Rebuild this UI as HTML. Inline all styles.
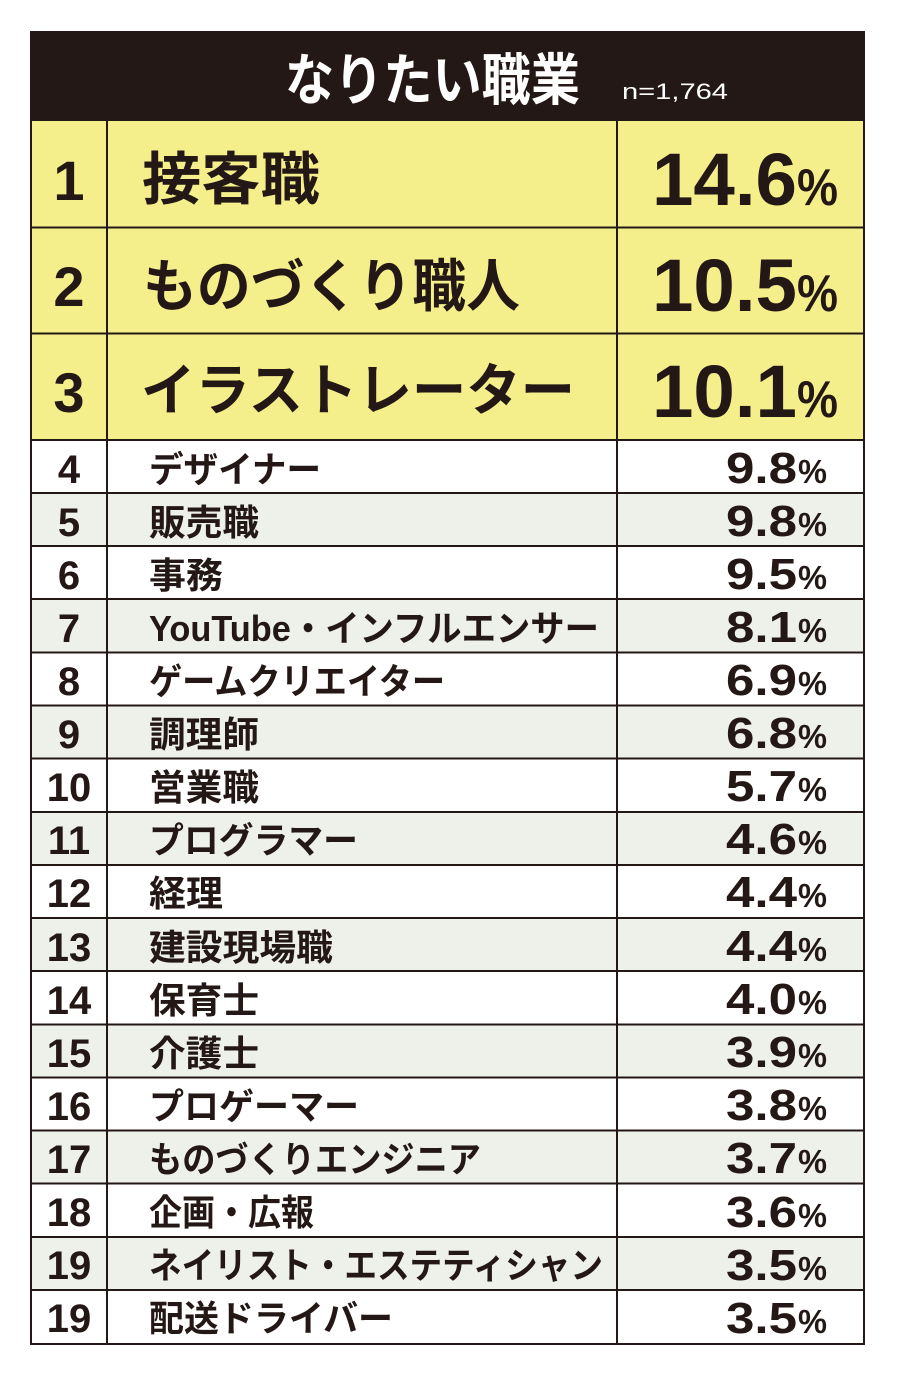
<!DOCTYPE html>
<html><head><meta charset="utf-8">
<style>
html,body{margin:0;padding:0;background:#fff;}
svg{display:block;}
.r{font-family:"Liberation Sans",Arial,sans-serif;font-weight:700;fill:#231815;}
.n{font-family:"Liberation Sans","Noto Sans CJK JP",sans-serif;font-weight:700;fill:#231815;}
.v{font-family:"Liberation Sans",Arial,sans-serif;font-weight:700;fill:#231815;}
</style></head>
<body>
<svg width="912" height="1383" viewBox="0 0 912 1383" xmlns="http://www.w3.org/2000/svg">
<rect x="0" y="0" width="912" height="1383" fill="#fff"/>
<!-- header -->
<rect x="31" y="32" width="833" height="89" fill="#231815"/>
<text x="285" y="100" font-family="Liberation Sans, Noto Sans CJK JP, sans-serif" font-weight="700" font-size="56" fill="#fff" textLength="295" lengthAdjust="spacingAndGlyphs">なりたい職業</text>
<text x="622" y="99" font-family="Liberation Sans, Arial, sans-serif" font-size="22" fill="#fff" textLength="106" lengthAdjust="spacingAndGlyphs">n=1,764</text>
<!-- top 3 yellow -->
<rect x="31" y="121" width="833" height="319" fill="#f5ef8b"/>
<!-- shaded rows -->
<rect x="31" y="493" width="833" height="53" fill="#edf1ea"/>
<rect x="31" y="599" width="833" height="53" fill="#edf1ea"/>
<rect x="31" y="706" width="833" height="53" fill="#edf1ea"/>
<rect x="31" y="812" width="833" height="53" fill="#edf1ea"/>
<rect x="31" y="918" width="833" height="53" fill="#edf1ea"/>
<rect x="31" y="1024" width="833" height="53" fill="#edf1ea"/>
<rect x="31" y="1131" width="833" height="53" fill="#edf1ea"/>
<rect x="31" y="1237" width="833" height="53" fill="#edf1ea"/>
<!-- grid lines -->
<g stroke="#231815" stroke-width="2" fill="none">
<rect x="31" y="32" width="833" height="1312"/>
<line x1="107" y1="121" x2="107" y2="1344"/>
<line x1="617" y1="121" x2="617" y2="1344"/>
<line x1="31" y1="227.5" x2="864" y2="227.5"/>
<line x1="31" y1="333.5" x2="864" y2="333.5"/>
<line x1="31" y1="440" x2="864" y2="440"/>
<line x1="31" y1="493" x2="864" y2="493"/>
<line x1="31" y1="546" x2="864" y2="546"/>
<line x1="31" y1="599" x2="864" y2="599"/>
<line x1="31" y1="652.5" x2="864" y2="652.5"/>
<line x1="31" y1="705.5" x2="864" y2="705.5"/>
<line x1="31" y1="758.5" x2="864" y2="758.5"/>
<line x1="31" y1="812" x2="864" y2="812"/>
<line x1="31" y1="865" x2="864" y2="865"/>
<line x1="31" y1="918" x2="864" y2="918"/>
<line x1="31" y1="971" x2="864" y2="971"/>
<line x1="31" y1="1024.5" x2="864" y2="1024.5"/>
<line x1="31" y1="1077.5" x2="864" y2="1077.5"/>
<line x1="31" y1="1130.5" x2="864" y2="1130.5"/>
<line x1="31" y1="1183.5" x2="864" y2="1183.5"/>
<line x1="31" y1="1237" x2="864" y2="1237"/>
<line x1="31" y1="1290" x2="864" y2="1290"/>
</g>

<!-- top 3 -->
<text class="r" x="69" y="200" font-size="56" text-anchor="middle">1</text>
<text class="r" x="69" y="306" font-size="56" text-anchor="middle">2</text>
<text class="r" x="69" y="412" font-size="56" text-anchor="middle">3</text>

<text class="n" x="142" y="199" font-size="57" textLength="178" lengthAdjust="spacingAndGlyphs">接客職</text>
<text class="n" x="143" y="306" font-size="57" textLength="377" lengthAdjust="spacingAndGlyphs">ものづくり職人</text>
<text class="n" x="141" y="410" font-size="56" textLength="434" lengthAdjust="spacingAndGlyphs">イラストレーター</text>

<text class="v" x="652" y="205" font-size="74" textLength="145" lengthAdjust="spacingAndGlyphs">14.6</text>
<text class="v" x="797" y="205" font-size="52" textLength="41" lengthAdjust="spacingAndGlyphs">%</text>
<text class="v" x="652" y="311" font-size="74" textLength="145" lengthAdjust="spacingAndGlyphs">10.5</text>
<text class="v" x="797" y="311" font-size="52" textLength="41" lengthAdjust="spacingAndGlyphs">%</text>
<text class="v" x="652" y="417" font-size="74" textLength="145" lengthAdjust="spacingAndGlyphs">10.1</text>
<text class="v" x="797" y="417" font-size="52" textLength="41" lengthAdjust="spacingAndGlyphs">%</text>

<!-- ranks 4-19 -->
<g class="r" font-size="40" text-anchor="middle">
<text x="69" y="483">4</text>
<text x="69" y="536">5</text>
<text x="69" y="589">6</text>
<text x="69" y="642">7</text>
<text x="69" y="695">8</text>
<text x="69" y="748">9</text>
<text x="69" y="801">10</text>
<text x="69" y="854">11</text>
<text x="69" y="907">12</text>
<text x="69" y="961">13</text>
<text x="69" y="1014">14</text>
<text x="69" y="1067">15</text>
<text x="69" y="1120">16</text>
<text x="69" y="1173">17</text>
<text x="69" y="1226">18</text>
<text x="69" y="1279">19</text>
<text x="69" y="1332">19</text>
</g>

<!-- names -->
<g class="n" font-size="36">
<text x="149" y="482" textLength="172" lengthAdjust="spacingAndGlyphs">デザイナー</text>
<text x="149" y="535" textLength="110" lengthAdjust="spacingAndGlyphs">販売職</text>
<text x="149" y="588" textLength="74" lengthAdjust="spacingAndGlyphs">事務</text>
<text x="149" y="641" textLength="450" lengthAdjust="spacingAndGlyphs">YouTube・インフルエンサー</text>
<text x="149" y="694" textLength="296" lengthAdjust="spacingAndGlyphs">ゲームクリエイター</text>
<text x="149" y="747" textLength="110" lengthAdjust="spacingAndGlyphs">調理師</text>
<text x="149" y="800" textLength="110" lengthAdjust="spacingAndGlyphs">営業職</text>
<text x="149" y="853" textLength="209" lengthAdjust="spacingAndGlyphs">プログラマー</text>
<text x="149" y="906" textLength="74" lengthAdjust="spacingAndGlyphs">経理</text>
<text x="149" y="960" textLength="184" lengthAdjust="spacingAndGlyphs">建設現場職</text>
<text x="149" y="1013" textLength="110" lengthAdjust="spacingAndGlyphs">保育士</text>
<text x="149" y="1066" textLength="110" lengthAdjust="spacingAndGlyphs">介護士</text>
<text x="149" y="1119" textLength="210" lengthAdjust="spacingAndGlyphs">プロゲーマー</text>
<text x="149" y="1172" textLength="332" lengthAdjust="spacingAndGlyphs">ものづくりエンジニア</text>
<text x="149" y="1225" textLength="165" lengthAdjust="spacingAndGlyphs">企画・広報</text>
<text x="149" y="1278" textLength="454" lengthAdjust="spacingAndGlyphs">ネイリスト・エステティシャン</text>
<text x="149" y="1331" textLength="244" lengthAdjust="spacingAndGlyphs">配送ドライバー</text>
</g>

<!-- values -->
<g class="v">
<text x="726" y="483" font-size="44" textLength="71" lengthAdjust="spacingAndGlyphs">9.8</text><text x="798" y="483" font-size="33" textLength="29" lengthAdjust="spacingAndGlyphs">%</text>
<text x="726" y="536" font-size="44" textLength="71" lengthAdjust="spacingAndGlyphs">9.8</text><text x="798" y="536" font-size="33" textLength="29" lengthAdjust="spacingAndGlyphs">%</text>
<text x="726" y="589" font-size="44" textLength="71" lengthAdjust="spacingAndGlyphs">9.5</text><text x="798" y="589" font-size="33" textLength="29" lengthAdjust="spacingAndGlyphs">%</text>
<text x="726" y="642" font-size="44" textLength="71" lengthAdjust="spacingAndGlyphs">8.1</text><text x="798" y="642" font-size="33" textLength="29" lengthAdjust="spacingAndGlyphs">%</text>
<text x="726" y="695" font-size="44" textLength="71" lengthAdjust="spacingAndGlyphs">6.9</text><text x="798" y="695" font-size="33" textLength="29" lengthAdjust="spacingAndGlyphs">%</text>
<text x="726" y="748" font-size="44" textLength="71" lengthAdjust="spacingAndGlyphs">6.8</text><text x="798" y="748" font-size="33" textLength="29" lengthAdjust="spacingAndGlyphs">%</text>
<text x="726" y="801" font-size="44" textLength="71" lengthAdjust="spacingAndGlyphs">5.7</text><text x="798" y="801" font-size="33" textLength="29" lengthAdjust="spacingAndGlyphs">%</text>
<text x="726" y="854" font-size="44" textLength="71" lengthAdjust="spacingAndGlyphs">4.6</text><text x="798" y="854" font-size="33" textLength="29" lengthAdjust="spacingAndGlyphs">%</text>
<text x="726" y="907" font-size="44" textLength="71" lengthAdjust="spacingAndGlyphs">4.4</text><text x="798" y="907" font-size="33" textLength="29" lengthAdjust="spacingAndGlyphs">%</text>
<text x="726" y="961" font-size="44" textLength="71" lengthAdjust="spacingAndGlyphs">4.4</text><text x="798" y="961" font-size="33" textLength="29" lengthAdjust="spacingAndGlyphs">%</text>
<text x="726" y="1014" font-size="44" textLength="71" lengthAdjust="spacingAndGlyphs">4.0</text><text x="798" y="1014" font-size="33" textLength="29" lengthAdjust="spacingAndGlyphs">%</text>
<text x="726" y="1067" font-size="44" textLength="71" lengthAdjust="spacingAndGlyphs">3.9</text><text x="798" y="1067" font-size="33" textLength="29" lengthAdjust="spacingAndGlyphs">%</text>
<text x="726" y="1120" font-size="44" textLength="71" lengthAdjust="spacingAndGlyphs">3.8</text><text x="798" y="1120" font-size="33" textLength="29" lengthAdjust="spacingAndGlyphs">%</text>
<text x="726" y="1173" font-size="44" textLength="71" lengthAdjust="spacingAndGlyphs">3.7</text><text x="798" y="1173" font-size="33" textLength="29" lengthAdjust="spacingAndGlyphs">%</text>
<text x="726" y="1227" font-size="44" textLength="71" lengthAdjust="spacingAndGlyphs">3.6</text><text x="798" y="1227" font-size="33" textLength="29" lengthAdjust="spacingAndGlyphs">%</text>
<text x="726" y="1280" font-size="44" textLength="71" lengthAdjust="spacingAndGlyphs">3.5</text><text x="798" y="1280" font-size="33" textLength="29" lengthAdjust="spacingAndGlyphs">%</text>
<text x="726" y="1333" font-size="44" textLength="71" lengthAdjust="spacingAndGlyphs">3.5</text><text x="798" y="1333" font-size="33" textLength="29" lengthAdjust="spacingAndGlyphs">%</text>
</g>
</svg>
</body></html>
